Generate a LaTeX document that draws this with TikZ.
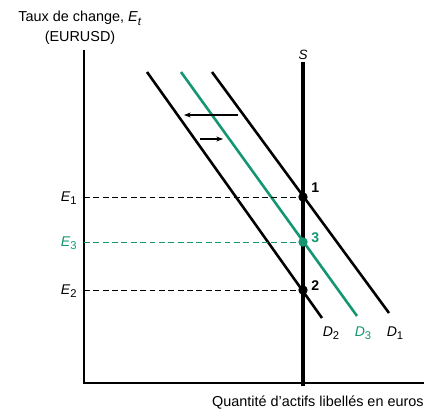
\documentclass[tikz,border=0pt]{standalone}
\usepackage{fontspec}
\setmainfont{Liberation Sans}
\usetikzlibrary{arrows.meta}
\definecolor{eurgreen}{RGB}{20,150,115}
\newcommand{\subx}[1]{\raisebox{-0.45ex}{\scalebox{0.8}{#1}}}

\tikzset{
  demand/.style={line width=2.2pt},
  supply/.style={line width=2.6pt},
  level/.style={dashed,line width=0.7pt,dash pattern=on 5pt off 3pt},
  eqdot/.style={circle,fill,inner sep=0pt,minimum size=8pt},
  lbl/.style={inner sep=1pt,font=\fontsize{12}{14}\selectfont}
}

\begin{document}
\begin{tikzpicture}[x=0.03cm,y=-0.03cm,>={Stealth[length=2mm]},font=\fontsize{10}{12}\selectfont,line cap=butt]
\useasboundingbox (0,0) rectangle (429,417);
% axes
\coordinate (o) at (84,383);
\coordinate (ytop) at (84,50);
\coordinate (xend) at (424,383);
\draw[line width=0.9pt] (ytop) -- (o) -- (xend);
\node[lbl,align=center,font=\fontsize{12.3}{17}\selectfont] (ttl) at (80,28) {Taux de change, \textit{E}\subx{\textit{t}}\\(EURUSD)};
\node[lbl,anchor=east,font=\fontsize{12.3}{14}\selectfont] (xlab) at (425,403) {Quantité d'actifs libellés en euros};
% supply
\coordinate (stop) at (303,62);
\coordinate (sbot) at (303,386);
\draw[supply] (stop) -- (sbot);
\node[lbl,font=\fontsize{11.5}{13}\selectfont] (slab) at (303,55) {\textit{S}};
% demand curves
\coordinate (d1a) at (212,72);  \coordinate (d1b) at (389,313);
\coordinate (d3a) at (181,72);  \coordinate (d3b) at (357,316);
\coordinate (d2a) at (147,72);  \coordinate (d2b) at (322,318);
\draw[demand] (d1a) -- (d1b);
\draw[demand,eurgreen] (d3a) -- (d3b);
\draw[demand] (d2a) -- (d2b);
\node[lbl] (d2lab) at (331,333) {\textit{D}\subx{2}};
\node[lbl,text=eurgreen] (d3lab) at (363,333) {\textit{D}\subx{3}};
\node[lbl] (d1lab) at (395,333) {\textit{D}\subx{1}};
% equilibria
\node[eqdot] (p1) at (303,197) {};
\node[eqdot,eurgreen] (p3) at (303,242) {};
\node[eqdot] (p2) at (303,290) {};
\node[lbl,anchor=west] at (310,188) {\textbf{1}};
\node[lbl,anchor=west,text=eurgreen] at (310,238) {\textbf{3}};
\node[lbl,anchor=west] at (310,286) {\textbf{2}};
% levels
\coordinate (e1) at (84,197);
\coordinate (e3) at (84,242);
\coordinate (e2) at (84,290);
\draw[level] (e1) -- (p1);
\draw[level,eurgreen] (e3) -- (p3);
\draw[level] (e2) -- (p2);
\node[lbl,anchor=east] at (78,198) {\textit{E}\subx{1}};
\node[lbl,anchor=east,text=eurgreen] at (78,243) {\textit{E}\subx{3}};
\node[lbl,anchor=east] at (78,291) {\textit{E}\subx{2}};
% shifts
\coordinate (a1) at (238,115);  \coordinate (a2) at (184,115);
\coordinate (b1) at (200,139);  \coordinate (b2) at (223,139);
\draw[->,line width=0.9pt] (a1) -- (a2);
\draw[->,line width=0.9pt] (b1) -- (b2);
\end{tikzpicture}
\end{document}
